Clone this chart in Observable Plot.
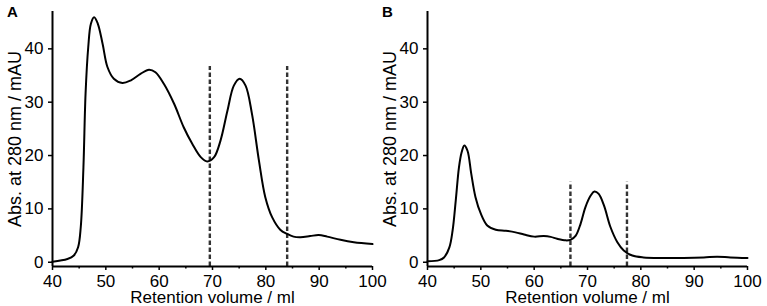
<!DOCTYPE html>
<html>
<head>
<meta charset="utf-8">
<script src="https://cdn.jsdelivr.net/npm/d3@7"></script>
<script src="https://cdn.jsdelivr.net/npm/@observablehq/plot@0.6"></script>
<style>
  html, body { margin: 0; padding: 0; background: #fff; }
  #wrap { position: relative; width: 767px; height: 306px; overflow: hidden; font-family: "Liberation Sans", Arial, sans-serif; }
  #wrap svg { position: absolute; top: 0; overflow: visible; }
  #wrap svg g[aria-label$="tick label"] { font-size: 17px; }
  .tag { position: absolute; font-weight: bold; font-size: 15px; color: #000; line-height: 1; }
</style>
</head>
<body>
<div id="wrap"></div>
<script>
// Panel A: retention volume (ml) and absorbance (mAU)
const volA = [40, 42.8, 44, 44.8, 45.3, 45.8, 46.2, 46.7, 47.2, 47.8, 48.5, 49.4, 50.3, 51.5, 53.1, 54.7, 56.5, 58.1, 59.3, 60.9, 62.8, 64.6, 66.2, 67.8, 69.0, 70.3, 71.5, 72.8, 74.0, 75.1, 76.2, 77.4, 78.7, 79.9, 81.2, 82.7, 84.0, 85.2, 86.5, 88.3, 89.9, 91.5, 94.0, 96.5, 100];
const absA = [0.1, 0.6, 1.25, 2.8, 6.6, 17.8, 31.6, 40.3, 44.7, 45.9, 44.7, 40.9, 36.6, 34.4, 33.6, 34.1, 35.3, 36.1, 35.6, 33.4, 29.7, 25.3, 22.2, 19.7, 18.9, 19.7, 22.8, 28.4, 33.1, 34.4, 33.1, 27.8, 19.1, 12.2, 8.4, 6.1, 5.3, 4.8, 4.7, 4.9, 5.1, 4.8, 4.2, 3.75, 3.4];
const cutsA = [69.5, 84];
const cutTopA = 36.7;

// Panel B
const volB = [40, 42.2, 43.1, 44.1, 44.7, 45.3, 45.9, 46.4, 46.9, 47.5, 48.2, 49.0, 50.0, 51.2, 52.8, 54.7, 56.5, 58.1, 60.0, 61.8, 63.1, 64.3, 65.9, 66.8, 67.8, 68.7, 69.6, 70.6, 71.3, 72.1, 73.1, 74.3, 75.6, 76.8, 78.4, 80.5, 84.3, 88.0, 91.8, 94.3, 96.8, 100];
const absB = [0.2, 0.4, 0.9, 2.8, 5.9, 11.6, 17.8, 20.6, 21.9, 20.9, 16.6, 12.2, 9.1, 6.9, 6.1, 5.9, 5.6, 5.2, 4.8, 4.9, 4.75, 4.4, 4.1, 4.2, 5.0, 7.2, 10.3, 12.5, 13.25, 12.8, 10.6, 6.6, 3.75, 2.2, 1.25, 0.9, 0.8, 0.8, 0.9, 1.05, 0.9, 0.8];
const cutsB = [66.8, 77.4];
const cutTopB = 15.0;

// Axes
const xTicks = [40, 50, 60, 70, 80, 90, 100];
const xMinorTicks = [45, 55, 65, 75, 85, 95];
const yTicks = [0, 10, 20, 30, 40];
const xDomain = [40, 100];
const yDomain = [-0.8, 47];
const xLabel = "Retention volume / ml";
const yLabel = "Abs. at 280 nm / mAU";

function panel(vol, abs, cuts, cutTop, width, marginRight) {
  const data = vol.map((v, i) => ({v, a: abs[i]}));
  return Plot.plot({
    width,
    height: 306,
    marginLeft: 52,
    marginRight,
    marginTop: 11,
    marginBottom: 40,
    style: {fontFamily: "Liberation Sans, Arial, sans-serif", color: "#000", background: "transparent", overflow: "visible"},
    x: {domain: xDomain},
    y: {domain: yDomain},
    marks: [
      Plot.ruleX(cuts, {y1: yDomain[0], y2: cutTop, stroke: "#333", strokeWidth: 2.4, strokeDasharray: "4.5,2.5"}),
      Plot.line(data, {x: "v", y: "a", stroke: "#000", strokeWidth: 2, curve: "catmull-rom"}),
      Plot.axisX({ticks: xTicks, tickSize: 4, tickPadding: 4, fontSize: 17, label: null, strokeWidth: 1.5}),
      Plot.axisX({ticks: xMinorTicks, tickSize: 2.5, text: null, label: null, strokeWidth: 1.5}),
      Plot.axisY({ticks: yTicks, tickSize: 4, tickPadding: 5, fontSize: 17, label: null, strokeWidth: 1.5}),
      Plot.ruleX([xDomain[0]], {stroke: "#000", strokeWidth: 2}),
      Plot.ruleY([yDomain[0]], {stroke: "#000", strokeWidth: 2}),
      Plot.text([xLabel], {frameAnchor: "bottom", lineAnchor: "middle", dy: 31.5, fontSize: 17, fill: "#000"}),
      Plot.text([yLabel], {frameAnchor: "left", textAnchor: "middle", lineAnchor: "middle", rotate: -90, dx: -37, fontSize: 18, fill: "#000"})
    ]
  });
}

const wrap = document.getElementById("wrap");
const a = panel(volA, absA, cutsA, cutTopA, 383, 11);
a.style.left = "0px";
wrap.appendChild(a);
const b = panel(volB, absB, cutsB, cutTopB, 392, 20);
b.style.left = "375px";
wrap.appendChild(b);

for (const [t, left] of [["A", 7], ["B", 382]]) {
  const d = document.createElement("div");
  d.className = "tag";
  d.textContent = t;
  d.style.left = left + "px";
  d.style.top = "4px";
  wrap.appendChild(d);
}
</script>
</body>
</html>
